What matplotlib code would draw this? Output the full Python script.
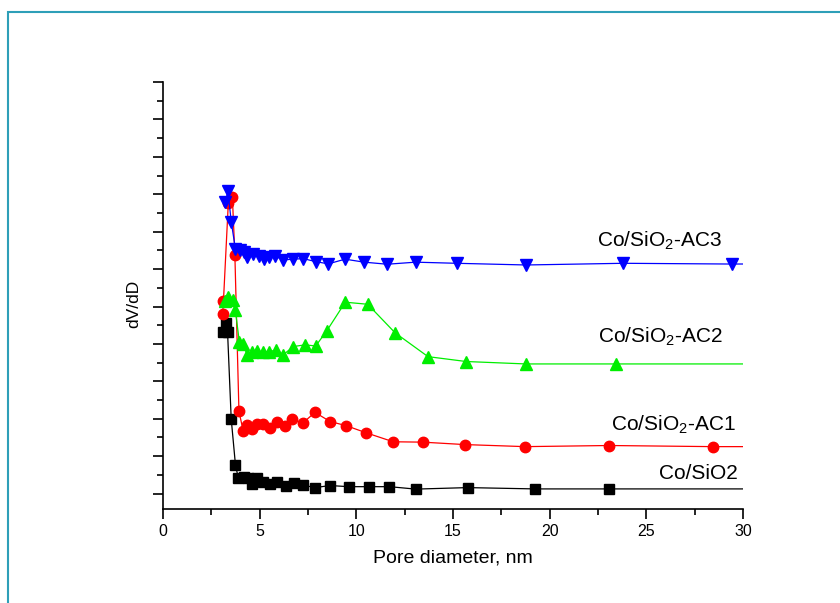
import numpy as np
import matplotlib
matplotlib.use("Agg")
import matplotlib.pyplot as plt
from matplotlib.patches import Rectangle
from matplotlib.ticker import MultipleLocator, NullFormatter

plt.rcParams['font.family'] = ['Liberation Sans', 'DejaVu Sans']
plt.rcParams['mathtext.fontset'] = 'custom'
plt.rcParams['mathtext.rm'] = 'Liberation Sans'
plt.rcParams['mathtext.it'] = 'Liberation Sans:italic'

# pore diameter (nm) and dV/dD (arbitrary, offset for clarity)
x_sio2 = [3.1, 3.24, 3.34, 3.53, 3.75, 3.90, 4.18, 4.41, 4.62, 4.85, 5.15, 5.54, 5.92,
          6.34, 6.79, 7.23, 7.85, 8.65, 9.60, 10.66, 11.71, 13.07, 15.76, 19.26, 23.06, 35.0]
y_sio2 = [8.66, 9.11, 8.66, 3.99, 1.53, 0.82, 0.87, 0.82, 0.52, 0.84, 0.60, 0.53, 0.63,
          0.38, 0.57, 0.46, 0.32, 0.43, 0.37, 0.37, 0.37, 0.24, 0.32, 0.25, 0.25, 0.25]

x_ac1 = [3.09, 3.13, 3.38, 3.59, 3.72, 3.93, 4.15, 4.37, 4.63, 4.88, 5.19, 5.53, 5.89,
         6.31, 6.69, 7.23, 7.86, 8.65, 9.48, 10.48, 11.91, 13.43, 15.61, 18.73, 23.07,
         28.44, 35.0]
y_ac1 = [9.60, 10.32, 15.52, 15.87, 12.74, 4.41, 3.34, 3.65, 3.47, 3.73, 3.71, 3.53, 3.84,
         3.63, 3.98, 3.77, 4.34, 3.85, 3.63, 3.26, 2.77, 2.75, 2.62, 2.51, 2.57,
         2.51, 2.51]

x_ac2 = [3.23, 3.38, 3.60, 3.74, 3.95, 4.15, 4.35, 4.60, 4.88, 5.18, 5.51, 5.86, 6.21,
         6.74, 7.35, 7.90, 8.48, 9.43, 10.59, 12.00, 13.71, 15.68, 18.76, 23.43, 35.0]
y_ac2 = [10.32, 10.51, 10.35, 9.84, 8.11, 7.99, 7.41, 7.57, 7.60, 7.59, 7.59, 7.68, 7.41,
         7.86, 7.95, 7.89, 8.71, 10.23, 10.12, 8.60, 7.32, 7.06, 6.93, 6.93, 6.93]

x_ac3 = [3.23, 3.36, 3.53, 3.75, 3.98, 4.19, 4.36, 4.67, 4.97, 5.23, 5.50, 5.79, 6.22,
         6.74, 7.26, 7.90, 8.55, 9.42, 10.41, 11.60, 13.07, 15.19, 18.78, 23.81, 29.42, 35.0]
y_ac3 = [15.59, 16.18, 14.54, 13.06, 13.02, 12.93, 12.63, 12.81, 12.70, 12.53, 12.63, 12.70, 12.49,
         12.53, 12.56, 12.40, 12.28, 12.53, 12.37, 12.26, 12.37, 12.31, 12.22, 12.31, 12.27, 12.29]

fig = plt.figure(figsize=(8.4, 6.03), dpi=100)
ax = fig.add_axes([0.194, 0.156, 0.6905, 0.708])

ax.plot(x_sio2, y_sio2, '-s', color='black', lw=0.9, ms=6.5)
ax.plot(x_ac1, y_ac1, '-o', color='#ff0000', lw=0.9, ms=7.5)
ax.plot(x_ac2, y_ac2, '-^', color='#00ee00', lw=0.9, ms=8)
ax.plot(x_ac3, y_ac3, '-v', color='#0000ff', lw=0.9, ms=8)

ax.set_xlim(0, 30)
ax.set_ylim(-0.82, 22.0)

ax.xaxis.set_major_locator(MultipleLocator(5))
ax.xaxis.set_minor_locator(MultipleLocator(2.5))
ax.yaxis.set_major_locator(MultipleLocator(2))
ax.yaxis.set_minor_locator(MultipleLocator(1))
ax.yaxis.set_major_formatter(NullFormatter())
ax.tick_params(which='major', direction='out', length=7, width=1.2, labelsize=11.5)
ax.tick_params(which='minor', direction='out', length=4, width=1.2)

ax.spines['top'].set_visible(False)
ax.spines['right'].set_visible(False)
ax.spines['left'].set_linewidth(1.2)
ax.spines['bottom'].set_linewidth(1.2)

ax.set_xlabel("Pore diameter, nm", fontsize=14, labelpad=8)
ax.set_ylabel("dV/dD", fontsize=12.5)
ax.yaxis.set_label_coords(-0.038, 0.48)

ax.text(28.9, 13.2, r"Co/SiO$_2$-AC3", ha='right', va='baseline', fontsize=15)
ax.text(28.95, 8.07, r"Co/SiO$_2$-AC2", ha='right', va='baseline', fontsize=15)
ax.text(29.6, 3.37, r"Co/SiO$_2$-AC1", ha='right', va='baseline', fontsize=15)
ax.text(29.75, 0.79, "Co/SiO2", ha='right', va='baseline', fontsize=15)

# teal frame around the figure
fig.patches.append(Rectangle((0.0095, -0.2), 1.5, 1.18, transform=fig.transFigure,
                             fill=False, edgecolor='#2e9fb8', lw=1.5, clip_on=False))

fig.savefig("out.png", dpi=100)
